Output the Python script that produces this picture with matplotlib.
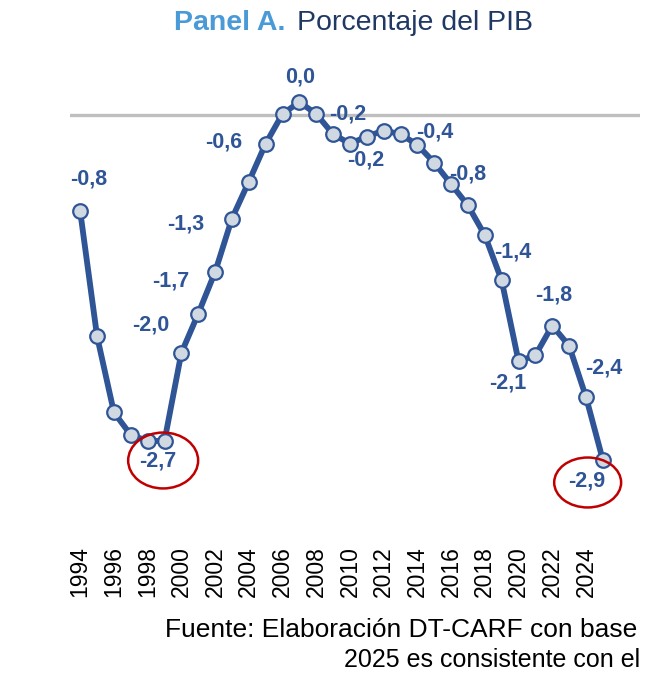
import matplotlib
matplotlib.use('Agg')
from matplotlib import pyplot as plt
from matplotlib.patches import Ellipse

plt.rcParams['font.family'] = ['Liberation Sans', 'DejaVu Sans']

# data
years = list(range(1994, 2026))
values = [-0.81, -1.86, -2.50, -2.69, -2.74, -2.74, -2.00, -1.67, -1.32, -0.87,
          -0.56, -0.24, 0.01, 0.11, 0.01, -0.16, -0.24, -0.18, -0.13, -0.16,
          -0.25, -0.40, -0.58, -0.76, -1.01, -1.39, -2.07, -2.02, -1.77, -1.94,
          -2.37, -2.90]

# labelled points: year, text, offset in pixels (dx, dy)
label_years = [1994, 1999, 2000, 2001, 2002, 2004, 2007, 2009, 2011,
               2015, 2017, 2019, 2020, 2022, 2024, 2025]
label_texts = ['-0,8', '-2,7', '-2,0', '-1,7', '-1,3', '-0,6', '0,0', '-0,2', '-0,2',
               '-0,4', '-0,8', '-1,4', '-2,1', '-1,8', '-2,4', '-2,9']
label_offsets = [(8, 32), (-7, -20), (-31, 28), (-27, 33), (-29, 48), (-25, 40),
                 (1, 25), (15, 20), (-1, -23), (1, 31), (0, 31), (11, 28),
                 (-11, -22), (1, 31), (18, 29), (-16, -21)]

blue = '#2F5597'

fig = plt.figure(figsize=(6.49, 6.91), dpi=100)
ax = fig.add_axes([0.108, 0.214, 0.878, 0.714])

ax.axhline(0, color='#BFBFBF', lw=2.4, zorder=1)
ax.plot(years, values, color=blue, lw=4.2, marker='o', ms=10.5,
        markerfacecolor='#D0D8E2', markeredgecolor=blue, markeredgewidth=1.6, zorder=3)

for yr, txt, (dx, dy) in zip(label_years, label_texts, label_offsets):
    ax.annotate(txt, (yr, values[years.index(yr)]), xytext=(dx, dy),
                textcoords='offset pixels', ha='center', va='center',
                fontsize=15.5, fontweight='bold', color=blue, zorder=4)

# red circles
ax.add_patch(Ellipse((1998.92, -2.905), 4.15, 0.47, fill=False, edgecolor='#C00000', lw=1.8, zorder=5))
ax.add_patch(Ellipse((2024.1, -3.09), 3.97, 0.42, fill=False, edgecolor='#C00000', lw=1.8, zorder=5))

ax.set_xlim(1993.4, 2027.2)
ax.set_ylim(-3.6, 0.55)
ax.set_xticks(years[::2])
ax.set_xticklabels([str(y) for y in years[::2]], rotation=90, fontsize=16.5)
ax.tick_params(axis='x', length=0, pad=2)
ax.set_yticks([])
for s in ax.spines.values():
    s.set_visible(False)

fig.text(0.439, 0.957, 'Panel A.', ha='right', va='baseline', fontsize=20.5,
         fontweight='bold', color='#4A9AD8')
fig.text(0.458, 0.957, 'Porcentaje del PIB', ha='left', va='baseline', fontsize=20.5,
         color='#1F3864')

fig.text(0.254, 0.078, 'Fuente: Elaboración DT-CARF con base', ha='left', va='baseline',
         fontsize=19, color='black')
fig.text(0.530, 0.035, '2025 es consistente con el', ha='left', va='baseline',
         fontsize=18, color='black')

plt.savefig('out.png', dpi=100)
plt.close()
